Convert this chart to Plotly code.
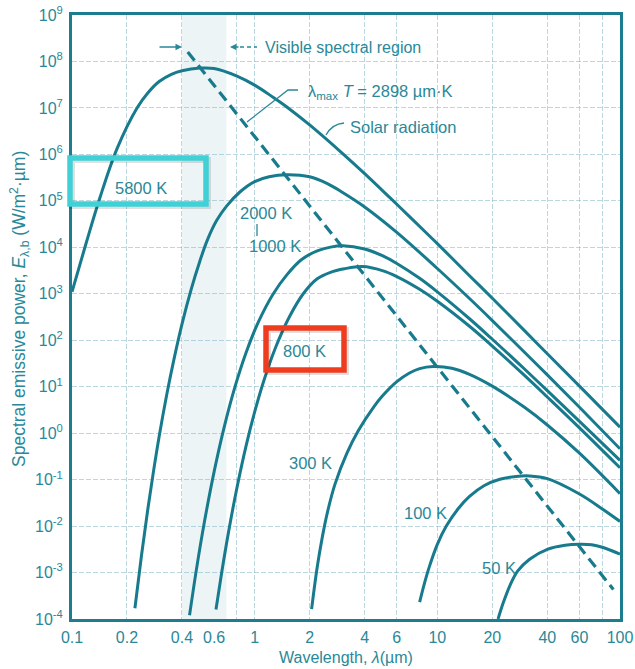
import plotly.graph_objects as go

# ---- figure geometry (px) ----
W, H = 635, 669
ML, MR, MT, MB = 72, 15, 15, 50
PW, PH = W - ML - MR, H - MT - MB

CURVE = "#177b8d"
AXIS = "#1d7c8e"
TEXT = "#2a8898"
GRID = "rgba(120,178,196,0.5)"
FONT = "Liberation Sans, Arial, sans-serif"

# ---- blackbody spectral emissive power, wavelength in um, E in W/(m^2 um) ----
lam_5800 = [0.1, 0.12, 0.142, 0.176, 0.227, 0.26, 0.3, 0.35, 0.4, 0.5, 0.6, 0.8, 1.0, 1.26,
            1.5, 2.0, 3.0, 4.0, 5.5, 7.0, 10, 15, 20, 30, 40, 60, 100]
E_5800 = [1.1e3, 1.3e4, 1.15e5, 1.3e6, 1.0e7, 2.1e7, 3.7e7, 5.3e7, 6.3e7, 7.2e7, 7.05e7,
          4.85e7, 3.1e7, 1.7e7, 1.05e7, 4.3e6, 1.08e6, 3.85e5, 1.17e5, 4.7e4, 1.2e4, 2.45e3,
          800, 161, 51, 10.3, 1.34]

lam_2000 = [0.221, 0.24, 0.26, 0.28, 0.30, 0.33, 0.36, 0.40, 0.45, 0.50, 0.55, 0.62, 0.70,
            0.83, 1.0, 1.2, 1.5, 2.0, 2.5, 3.0, 4.0, 6.0, 10, 15, 20, 30, 40, 60, 100]
E_2000 = [1.7e-4, 2.3e-3, 2.3e-2, 0.16, 0.85, 6.7, 36, 223, 1.28e3, 4.9e3, 1.41e4, 3.8e4,
          7.6e4, 1.55e5, 2.6e5, 3.3e5, 3.65e5, 3.3e5, 2.35e5, 1.55e5, 7.4e4, 2.1e4, 3.5e3,
          790, 265, 55, 18, 3.6, 0.46]

lam_1000 = [0.44, 0.48, 0.53, 0.60, 0.68, 0.78, 0.90, 1.05, 1.26, 1.5, 1.8, 2.2, 2.6, 3.05,
            4.0, 5.0, 6.0, 8.0, 10, 15, 20, 30, 40, 60, 100]
E_1000 = [1.2e-4, 1.17e-3, 1.19e-2, 0.149, 1.32, 9.9, 56, 251, 980, 2.55e3, 5.4e3, 8.4e3,
          1.01e4, 1.08e4, 9.2e3, 6.6e3, 4.5e3, 2.15e3, 1.1e3, 290, 105, 24, 8.2, 1.8, 0.26]

lam_800 = [0.614, 0.66, 0.72, 0.80, 0.90, 1.0, 1.12, 1.3, 1.55, 1.845, 2.2, 2.6, 3.1, 3.9,
           5.0, 6.0, 8.0, 10, 15, 20, 30, 40, 60, 100]
E_800 = [1.6e-4, 1e-3, 7.6e-3, 0.067, 0.56, 2.86, 13.1, 69, 320, 1e3, 2.1e3, 2.9e3, 3.45e3,
         3.85e3, 3.15e3, 2.35e3, 1.25e3, 690, 200, 75, 17.5, 6.0, 1.3, 0.18]

lam_300 = [2.05, 2.2, 2.35, 2.5, 2.75, 3.2, 3.69, 4.5, 5.0, 6.0, 7.0, 8.0, 9.5, 12, 15, 20,
           30, 40, 60, 100]
E_300 = [1.63e-4, 1.31e-3, 6.0e-3, 1.95e-2, 7.9e-2, 0.37, 1.12, 3.72, 6.27, 12.8, 19.5, 24.5,
         27.2, 25, 18.5, 10.3, 3.6, 1.5, 0.37, 0.05]

lam_100 = [8.0, 8.5, 9.0, 10, 11.2, 13, 15, 18, 22, 27, 32, 40, 60, 80, 100]
E_100 = [2.3e-4, 5.85e-4, 1.26e-3, 4.04e-3, 1e-2, 2.36e-2, 4.35e-2, 7.4e-2, 0.102, 0.117,
         0.12, 0.105, 0.049, 0.0234, 0.0126]

lam_50 = [21.5, 23, 25, 27.5, 32, 40, 50, 60, 70, 80, 100]
E_50 = [1e-4, 2.28e-4, 5.3e-4, 1.07e-3, 1.93e-3, 3.15e-3, 3.85e-3, 4.05e-3, 3.95e-3, 3.5e-3,
        2.5e-3]

# Wien displacement locus, lambda_max * T = 2898 um K
wien_lam = [0.43, 92]
wien_E = [1.6e8, 4.3e-4]

x_ticks = [0.1, 0.2, 0.4, 0.6, 1, 2, 4, 6, 10, 20, 40, 60, 100]
x_tick_text = ["0.1", "0.2", "0.4", "0.6", "1", "2", "4", "6", "10", "20", "40", "60", "100"]
x_grid = [0.2, 0.4, 0.8, 1, 2, 4, 6, 10, 20, 40, 60, 80]
y_exp = [-4, -3, -2, -1, 0, 1, 2, 3, 4, 5, 6, 7, 8, 9]
y_grid_exp = [-3, -2, -1, 0, 1, 2, 3, 4, 5, 6, 7, 8]
visible_band = [0.4, 0.7]


def P(x, y):
    """pixel position in the page -> paper coordinates"""
    return (x - ML) / PW, (H - MB - y) / PH


fig = go.Figure()

for lam, E in [(lam_5800, E_5800), (lam_2000, E_2000), (lam_1000, E_1000), (lam_800, E_800),
               (lam_300, E_300), (lam_100, E_100), (lam_50, E_50)]:
    fig.add_trace(go.Scatter(x=lam, y=E, mode="lines",
                             line=dict(color=CURVE, width=3, shape="spline", smoothing=1),
                             hoverinfo="skip"))

fig.add_trace(go.Scatter(x=wien_lam, y=wien_E, mode="lines",
                         line=dict(color=CURVE, width=3.2, dash="11px,6px"),
                         hoverinfo="skip"))

shapes = [
    # visible spectral band
    dict(type="rect", xref="x", yref="paper", x0=visible_band[0], x1=visible_band[1],
         y0=0, y1=1, fillcolor="rgba(200,220,226,0.32)", line_width=0, layer="below"),
]


def path(points, color=TEXT, width=1.3, dash="solid"):
    d = "M " + " L ".join("%.5f,%.5f" % P(x, y) for x, y in points)
    return dict(type="path", xref="paper", yref="paper", path=d,
                line=dict(color=color, width=width, dash=dash))


# leader lines
shapes.append(path([(298, 90), (288, 90), (247, 122)]))
x0, y0 = P(344, 123)
xc, yc = P(332, 124)
x1, y1 = P(326, 135)
shapes.append(dict(type="path", xref="paper", yref="paper",
                   path="M %.5f,%.5f Q %.5f,%.5f %.5f,%.5f" % (x0, y0, xc, yc, x1, y1),
                   line=dict(color=TEXT, width=1.3)))
shapes.append(path([(257, 224), (257, 236)]))
shapes.append(path([(240, 47), (257, 47)], dash="4px,3px"))


def box(x0p, y0p, x1p, y1p, color, width):
    a = P(x0p, y1p)
    b = P(x1p, y0p)
    return dict(type="rect", xref="paper", yref="paper", x0=a[0], y0=a[1], x1=b[0], y1=b[1],
                line=dict(color=color, width=width), fillcolor="rgba(0,0,0,0)")


# highlight frames with a soft shadow
shapes.append(box(72, 160, 208, 206, "rgba(0,0,0,0.12)", 6))
shapes.append(box(70, 158, 206, 204, "#3fd1d5", 5.5))
shapes.append(box(268, 330, 346, 372, "rgba(0,0,0,0.12)", 6))
shapes.append(box(266, 328, 344, 370, "#f03c1e", 5.5))

annotations = []


def label(text, x, y, size=16.5, xanchor="center", angle=0):
    px_, py_ = P(x, y)
    annotations.append(dict(text=text, x=px_, y=py_, xref="paper", yref="paper",
                            xanchor=xanchor, yanchor="middle", showarrow=False,
                            textangle=angle, font=dict(family=FONT, size=size, color=TEXT)))


label("5800 K", 141, 188)
label("2000 K", 266, 213)
label("1000 K", 275, 246)
label("800 K", 304, 351)
label("300 K", 310, 463)
label("100 K", 425, 513)
label("50 K", 499, 568)
label("Visible spectral region", 263, 47, size=16, xanchor="left")
label("λ<sub>max</sub> <i>T</i> = 2898 µm·K", 306, 92, size=16.5, xanchor="left")
label("Solar radiation", 348, 127, size=16.5, xanchor="left")
label("Wavelength, <i>λ</i>(µm)", 346, 657, size=16)
label("Spectral emissive power, <i>E</i><sub>λ,b</sub> (W/m<sup>2</sup>·µm)", 19, 309,
      size=17.5, angle=-90)

# arrows marking the visible band edges
for hx, ax in [(182, -24), (230, 10)]:
    px_, py_ = P(hx, 47)
    annotations.append(dict(text="", x=px_, y=py_, xref="paper", yref="paper",
                            ax=ax, ay=0, showarrow=True, arrowhead=2, arrowsize=1,
                            arrowwidth=1.3, arrowcolor=TEXT))

fig.update_layout(
    width=W, height=H,
    margin=dict(l=ML, r=MR, t=MT, b=MB, autoexpand=False),
    paper_bgcolor="white", plot_bgcolor="white",
    showlegend=False,
    shapes=shapes,
    annotations=annotations,
    xaxis=dict(type="log", range=[-1, 2], tickmode="array", tickvals=x_ticks,
               ticktext=x_tick_text, showgrid=False, zeroline=False, showline=True,
               mirror=True, linecolor=AXIS, linewidth=3, ticks="", ticklen=0,
               automargin=False, ticklabelstandoff=2,
               tickfont=dict(family=FONT, size=16, color=TEXT),
               minor=dict(tickmode="array", tickvals=x_grid, showgrid=True, gridcolor=GRID,
                          gridwidth=1.2, griddash="5px,2px", ticks="")),
    yaxis=dict(type="log", range=[-4, 9], tickmode="array",
               tickvals=[10.0 ** k for k in y_exp],
               ticktext=["10<sup>%d</sup>" % k for k in y_exp],
               showgrid=False, zeroline=False, showline=True, mirror=True,
               linecolor=AXIS, linewidth=3, ticks="", ticklen=0, automargin=False,
               ticklabelstandoff=3,
               tickfont=dict(family=FONT, size=16, color=TEXT),
               minor=dict(tickmode="array", tickvals=[10.0 ** k for k in y_grid_exp],
                          showgrid=True, gridcolor=GRID, gridwidth=1.2,
                          griddash="5px,2px", ticks="")),
)

fig.write_html("out.html")
